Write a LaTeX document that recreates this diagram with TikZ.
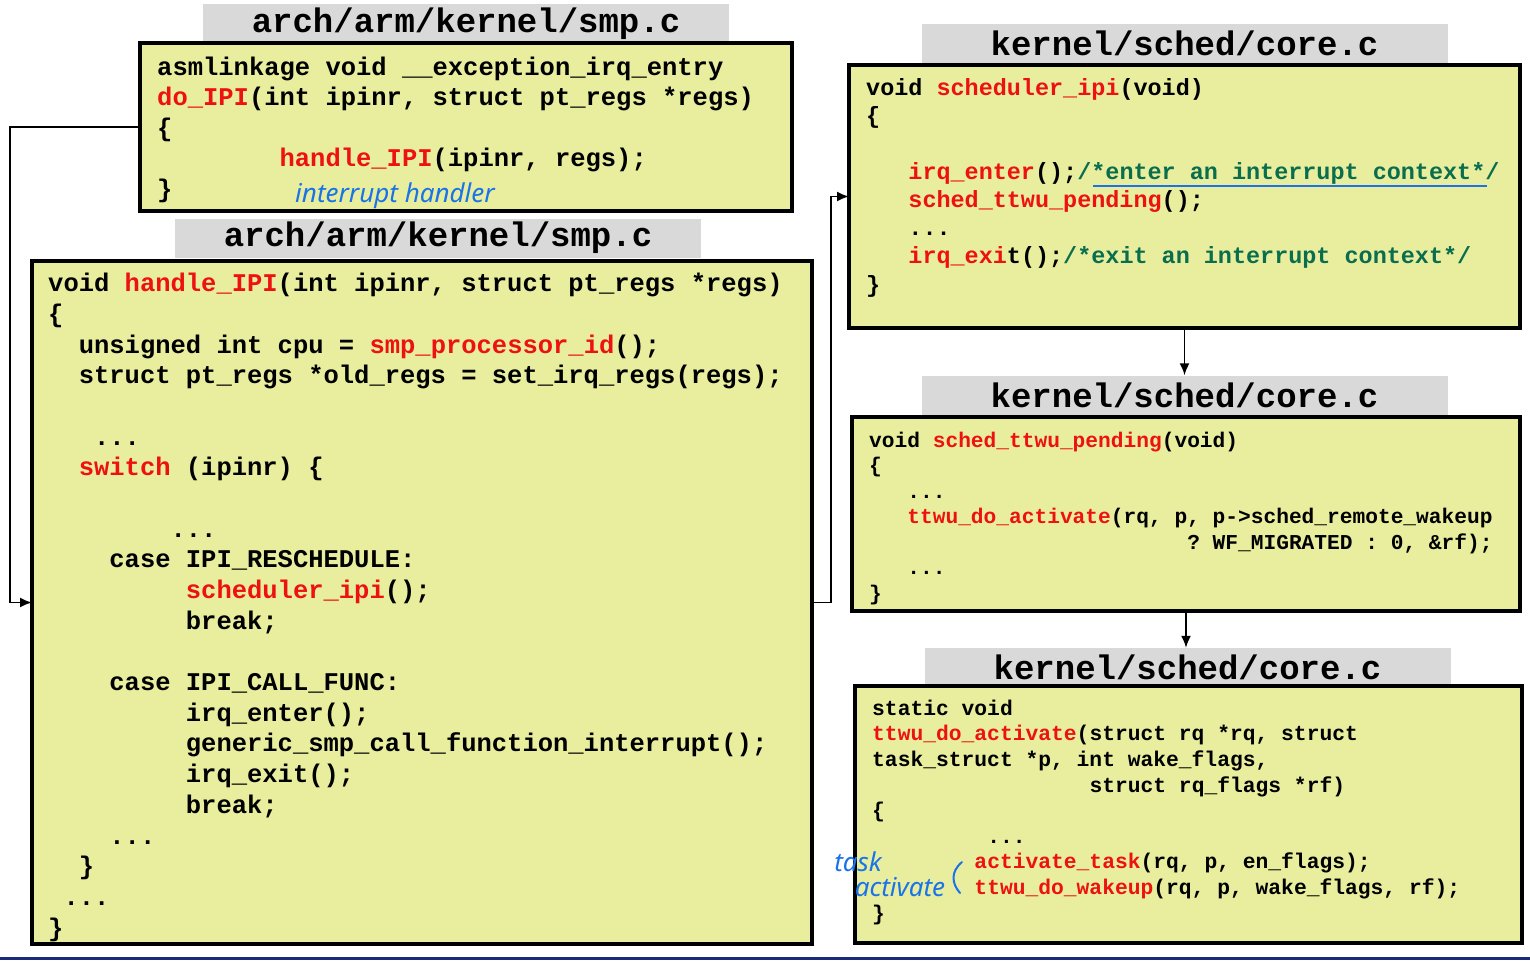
\documentclass[tikz,border=0pt]{standalone}
\usepackage{fontspec}
\setmonofont{Liberation Mono}
\newfontfamily\handfont{Noto Sans}
\usepackage{xcolor}
\usetikzlibrary{arrows.meta}

\definecolor{codeyellow}{HTML}{E8EE9E}
\definecolor{hdrgray}{HTML}{D9D9D9}
\definecolor{codered}{HTML}{EE1111}
\definecolor{cmtgreen}{HTML}{0A6E4E}
\definecolor{penblue}{HTML}{1A73E8}
\definecolor{rulenavy}{HTML}{1B2A7A}

\newcommand\fn[1]{\textcolor{codered}{#1}}
\newcommand\cmt[1]{\textcolor{cmtgreen}{#1}}
\newcommand\ind[1]{\hspace*{#1\fontcharwd\font`x}}
\newcommand\codefont[2]{\ttfamily\bfseries\fontsize{#1}{#2}\selectfont}

\tikzset{
 codebox/.style={draw=black, line width=3.5pt, fill=codeyellow, inner sep=0, outer sep=0, anchor=north west},
 filehdr/.style={fill=hdrgray, inner sep=0, minimum width=526, minimum height=39, font=\codefont{34}{40}},
 code/.style={anchor=base west, inner sep=0, align=left},
 link/.style={-{Latex[length=12pt,width=10pt]}, line width=1.8pt},
 scribble/.style={text=penblue, inner sep=0, font=\handfont\itshape\fontsize{26}{28}\selectfont}
}

\begin{document}
\begin{tikzpicture}[x=1pt,y=-1pt]
\useasboundingbox (0,0) rectangle (1530,961);

%file headers
\node[filehdr] (hdrA) at (466,23.5) {arch/arm/kernel/smp.c};
\node[filehdr] (hdrB) at (438,238) {arch/arm/kernel/smp.c};
\node[filehdr] (hdrC) at (1184.5,43.5) {kernel/sched/core.c};
\node[filehdr] (hdrD) at (1184.5,395) {kernel/sched/core.c};
\node[filehdr] (hdrE) at (1187.5,667.5) {kernel/sched/core.c};

%boxes
\node[codebox, minimum width=652, minimum height=168] (boxA) at (140,43) {};
\node[codebox, minimum width=780, minimum height=683] (boxB) at (32,261) {};
\node[codebox, minimum width=671, minimum height=263] (boxC) at (849,65) {};
\node[codebox, minimum width=668, minimum height=194] (boxD) at (852,417) {};
\node[codebox, minimum width=667, minimum height=257] (boxE) at (855,686) {};

%do_IPI (base = last line)
\node[code, font=\codefont{25.5}{30.5}] (codeA) at (157,197) {asmlinkage void \_\_exception\_irq\_entry\\
\fn{do\_IPI}(int ipinr, struct pt\_regs *regs)\\
\{\\
\ind{8}\fn{handle\_IPI}(ipinr, regs);\\
\}};

%handle_IPI
\node[code, font=\codefont{25.5}{30.67}] (codeB) at (48,936) {void \fn{handle\_IPI}(int ipinr, struct pt\_regs *regs)\\
\{\\
\ind{2}unsigned int cpu = \fn{smp\_processor\_id}();\\
\ind{2}struct pt\_regs *old\_regs = set\_irq\_regs(regs);\\
~\\
\ind{3}...\\
\ind{2}\fn{switch} (ipinr) \{\\
~\\
\ind{8}...\\
\ind{4}case IPI\_RESCHEDULE:\\
\ind{9}\fn{scheduler\_ipi}();\\
\ind{9}break;\\
~\\
\ind{4}case IPI\_CALL\_FUNC:\\
\ind{9}irq\_enter();\\
\ind{9}generic\_smp\_call\_function\_interrupt();\\
\ind{9}irq\_exit();\\
\ind{9}break;\\
\ind{4}...\\
\ind{2}\}\\
\ind{1}...\\
\}};

%scheduler_ipi
\node[code, font=\codefont{23.45}{28.14}] (codeC) at (866,292) {void \fn{scheduler\_ipi}(void)\\
\{\\
~\\
\ind{3}\fn{irq\_enter}();\cmt{/*enter an interrupt context*/}\\
\ind{3}\fn{sched\_ttwu\_pending}();\\
\ind{3}...\\
\ind{3}\fn{irq\_exi}t();\cmt{/*exit an interrupt context*/}\\
\}};

%sched_ttwu_pending
\node[code, font=\codefont{21.2}{25.5}] (codeD) at (869,600) {void \fn{sched\_ttwu\_pending}(void)\\
\{\\
\ind{3}...\\
\ind{3}\fn{ttwu\_do\_activate}(rq, p, p->sched\_remote\_wakeup\\
\ind{25}? WF\_MIGRATED : 0, \&rf);\\
\ind{3}...\\
\}};

%ttwu_do_activate
\node[code, font=\codefont{21.3}{25.6}] (codeE) at (872,920) {static void\\
\fn{ttwu\_do\_activate}(struct rq *rq, struct\\
task\_struct *p, int wake\_flags,\\
\ind{17}struct rq\_flags *rf)\\
\{\\
\ind{9}...\\
\ind{8}\fn{activate\_task}(rq, p, en\_flags);\\
\ind{8}\fn{ttwu\_do\_wakeup}(rq, p, wake\_flags, rf);\\
\}};

%calls
\draw[link] (boxA.west) -- ++(-130,0) |- (boxB.west);
\draw[link] (boxB.east) -- ++(19,0) |- (boxC.west);
\draw[link] (boxC.south) -- (hdrD.north);
\draw[link] (boxD.south) -- (boxD.south |- hdrE.north);

%pen notes
\node[scribble] (noteA) at (395,196) {interrupt handler};
\node[scribble] (noteB) at (858,862) {task};
\node[scribble] (noteC) at (900,887) {activate};
\draw[penblue, line width=2.5pt] (1093,186) -- (1487,186);
\draw[penblue, line width=2pt, line cap=round] (962,862) .. controls (950,872) and (952,884) .. (960,893);

\draw[rulenavy, line width=3pt] (0,958) -- (1530,958);
\end{tikzpicture}
\end{document}
